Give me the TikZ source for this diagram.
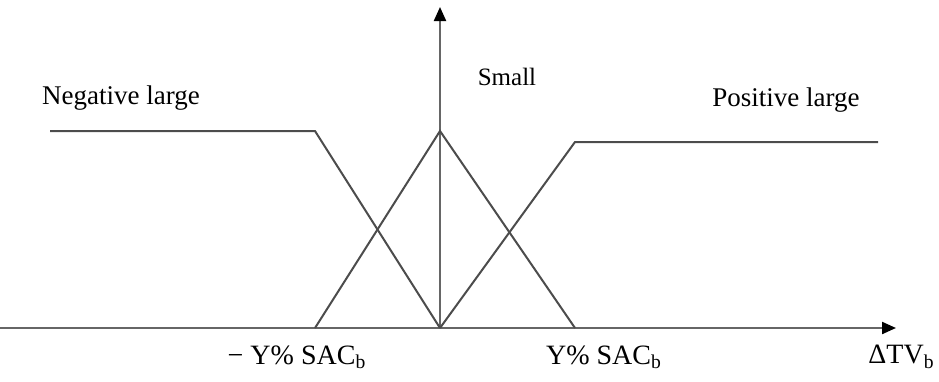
\documentclass[tikz,border=0pt]{standalone}
\usepackage{fontspec}
\setmainfont{Liberation Serif}
\usetikzlibrary{arrows.meta}
\begin{document}
\begin{tikzpicture}[x=0.5pt,y=-0.5pt,
  curve/.style={draw=black!70,line width=1pt},
  axisline/.style={draw=black!60,line width=1.1pt,-{Triangle[length=7pt,width=6pt,black]}},
  lbl/.style={font=\fontsize{13.5pt}{16pt}\selectfont,inner sep=0pt},
  mlbl/.style={font=\fontsize{14pt}{16pt}\selectfont,inner sep=0pt}]
\useasboundingbox (0,0) rectangle (939,381);
% key points
\coordinate (o) at (440,328);
\coordinate (xend) at (896,328);
\coordinate (yend) at (440,7);
\coordinate (xstart) at (0,328);
\coordinate (nl0) at (50,131);
\coordinate (nl1) at (315,131);
\coordinate (sl) at (315,328);
\coordinate (sp) at (440,131);
\coordinate (sr) at (575,328);
\coordinate (pl1) at (575,142);
\coordinate (pl2) at (878,142);
% axes
\draw[axisline] (xstart) -- (xend);
\draw[axisline] (o) -- (yend);
% membership functions
\draw[curve] (nl0) -- (nl1) -- (o);
\draw[curve] (sl) -- (sp) -- (sr);
\draw[curve] (o) -- (pl1) -- (pl2);
% labels
\node[lbl] (neg) at (121,98) {Negative large};
\node[lbl,font=\fontsize{12.5pt}{15pt}\selectfont] (small) at (507,77) {Small};
\node[lbl] (pos) at (786,100) {Positive large};
\node[mlbl] (mneg) at (297,357) {− Y\% SAC\textsubscript{b}};
\node[mlbl] (mpos) at (604,357) {Y\% SAC\textsubscript{b}};
\node[mlbl,anchor=east] (dtv) at (935,357) {ΔTV\textsubscript{b}};
\end{tikzpicture}
\end{document}
